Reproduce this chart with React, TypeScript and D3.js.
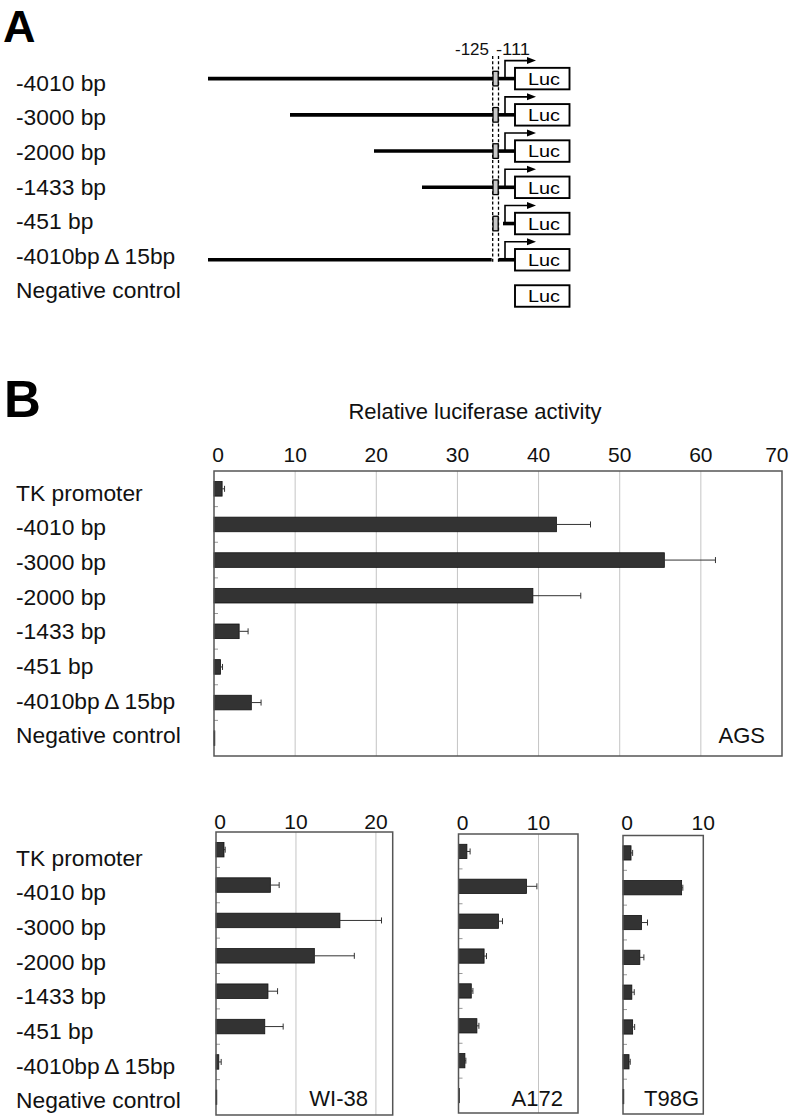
import React from 'react';
import * as d3 from 'd3';

const categories = ['TK promoter', '-4010 bp', '-3000 bp', '-2000 bp', '-1433 bp', '-451 bp', '-4010bp\u2009\u0394 15bp', 'Negative control'];
const constructs = categories.slice(1);
// construct start (bp); null => no upstream segment
const constructStart = [-4010, -3000, -2000, -1433, null, -4010, null];
const hasElement = [true, true, true, true, true, false, false];
const hasPromoter = [true, true, true, true, true, true, false];

const agsValues = [1.0, 42.2, 55.5, 39.3, 3.1, 0.8, 4.6, 0.1];
const agsErrors = [0.3, 4.2, 6.3, 5.9, 1.1, 0.25, 1.2, 0];
const wi38Values = [1.0, 6.8, 15.5, 12.3, 6.5, 6.1, 0.35, 0.0];
const wi38Errors = [0.15, 1.1, 5.2, 5.0, 1.2, 2.3, 0.3, 0];
const a172Values = [1.05, 8.5, 5.0, 3.2, 1.6, 2.3, 0.8, 0.1];
const a172Errors = [0.4, 1.3, 0.5, 0.3, 0.2, 0.25, 0.12, 0];
const t98gValues = [1.0, 7.3, 2.3, 2.1, 1.1, 1.2, 0.75, 0.05];
const t98gErrors = [0.2, 0.15, 0.75, 0.5, 0.3, 0.25, 0.15, 0];

const agsTicks = [0, 10, 20, 30, 40, 50, 60, 70];
const wi38Ticks = [0, 10, 20];
const a172Ticks = [0, 10];
const t98gTicks = [0, 10];

const FONT = '"Liberation Sans", Arial, Helvetica, sans-serif';

type PanelProps = {
  x0: number; x1: number; top: number; bottom: number; max: number;
  values: number[]; errors: number[]; ticks: number[]; name: string;
  tickBaseline: number; nameX: number; nameBaseline: number;
};

function BarPanel(p: PanelProps) {
  const x = d3.scaleLinear().domain([0, p.max]).range([p.x0, p.x1]);
  const y = d3.scaleBand<string>().domain(categories).range([p.top, p.bottom])
    .paddingInner(0.59).paddingOuter(0.295);
  const step = y.step();
  return (
    <g>
      {p.ticks.filter(t => t > 0 && x(t) < p.x1 - 1).map(t => (
        <line key={'g' + t} x1={x(t)} x2={x(t)} y1={p.top} y2={p.bottom} stroke="#c4c4c4" strokeWidth={1} />
      ))}
      {d3.range(1, categories.length).map(i => (
        <line key={'t' + i} x1={p.x0} x2={p.x0 + 4} y1={p.top + i * step} y2={p.top + i * step} stroke="#999" strokeWidth={1} />
      ))}
      {categories.map((c, i) => {
        const yc = (y(c) as number) + y.bandwidth() / 2;
        const v = p.values[i];
        const e = p.errors[i];
        return (
          <g key={c}>
            <rect x={x(0)} y={y(c)} width={Math.max(0.8, x(v) - x(0))} height={y.bandwidth()} fill="#333" stroke="#111" strokeWidth={0.8} />
            {e > 0 && (
              <g stroke="#333" strokeWidth={1}>
                <line x1={x(v)} x2={x(v + e)} y1={yc} y2={yc} />
                <line x1={x(v + e)} x2={x(v + e)} y1={yc - 3} y2={yc + 3} />
              </g>
            )}
          </g>
        );
      })}
      <rect x={p.x0} y={p.top} width={p.x1 - p.x0} height={p.bottom - p.top} fill="none" stroke="#555" strokeWidth={1.5} />
      {p.ticks.map(t => {
        const px = x(t);
        const nearEdge = px + 12 > 789;
        return (
          <text key={'l' + t} x={nearEdge ? 788.5 : px + (t === 0 ? 4 : 0)} y={p.tickBaseline}
            textAnchor={nearEdge ? 'end' : 'middle'} fontSize={21} fontFamily={FONT} fill="#111">{t}</text>
        );
      })}
      <text x={p.nameX} y={p.nameBaseline} textAnchor="end" fontSize={22} fontFamily={FONT} fill="#111">{p.name}</text>
    </g>
  );
}

export default function App() {
  // Panel A
  const labelA = d3.scalePoint<string>().domain(constructs).range([90.7, 298.3]);
  const rowY = d3.scalePoint<string>().domain(constructs).range([78.6, 296]);
  const bpX = d3.scaleLinear().domain([-4010, -3000, -2000, -1433, -125]).range([208, 290, 374, 422, 493]);
  const dashL = 492.7, dashR = 498.5, lucX = 515, lucW = 54.5, lucH = 21.5;

  const labelBTop = d3.scalePoint<string>().domain(categories).range([500.7, 743.3]);
  const labelBBot = d3.scalePoint<string>().domain(categories).range([865.7, 1108.3]);

  return (
    <svg width={791} height={1118} style={{ position: 'absolute', left: 0, top: 0, display: 'block' }} fontFamily={FONT}>
      <rect x={0} y={0} width={791} height={1118} fill="#fff" />
      <text x={3} y={41.5} fontSize={45} fontWeight="bold" fill="#000">A</text>
      <text x={4} y={417} fontSize={51} fontWeight="bold" fill="#000">B</text>

      {constructs.map(c => (
        <text key={'la' + c} x={16} y={labelA(c)} fontSize={22.8} fill="#111">{c}</text>
      ))}

      <text x={455} y={54.5} fontSize={17} textLength={34} lengthAdjust="spacingAndGlyphs" fill="#111">-125</text>
      <text x={496} y={54.5} fontSize={17} textLength={34} lengthAdjust="spacingAndGlyphs" fill="#111">-111</text>
      <line x1={dashL} x2={dashL} y1={56} y2={262} stroke="#000" strokeWidth={1.3} strokeDasharray="3,2.2" />
      <line x1={dashR} x2={dashR} y1={56} y2={262} stroke="#000" strokeWidth={1.3} strokeDasharray="3,2.2" />

      {constructs.map((c, i) => {
        const yy = rowY(c) as number;
        const start = constructStart[i];
        const isDelta = !hasElement[i] && hasPromoter[i];
        const rightStart = isDelta ? dashR : (start === null ? 503 : dashR);
        return (
          <g key={'row' + c}>
            {start !== null && (
              <line x1={bpX(start)} x2={isDelta ? dashL - 1 : dashL} y1={yy} y2={yy} stroke="#000" strokeWidth={3.6} />
            )}
            {hasPromoter[i] && (
              <line x1={rightStart} x2={lucX} y1={yy} y2={yy} stroke="#000" strokeWidth={3.6} />
            )}
            {hasElement[i] && (
              <rect x={dashL + 0.3} y={yy - 7.3} width={dashR - dashL - 0.6} height={14.6} fill="#c8c8c8" stroke="#000" strokeWidth={1.3} />
            )}
            {hasPromoter[i] && (
              <g>
                <path d={`M505,${yy} V${yy - 18} H528`} fill="none" stroke="#000" strokeWidth={1.6} />
                <path d={`M527,${yy - 21.5} L536,${yy - 18} L527,${yy - 14.5} Z`} fill="#000" />
              </g>
            )}
            <rect x={lucX} y={yy - lucH / 2} width={lucW} height={lucH} fill="#fff" stroke="#000" strokeWidth={1.9} />
            <text x={528} y={yy + 6.2} fontSize={16.5} textLength={32} lengthAdjust="spacingAndGlyphs" fill="#000">Luc</text>
          </g>
        );
      })}

      {/* Panel B */}
      <text x={475} y={418.5} textAnchor="middle" fontSize={22} fill="#111">Relative luciferase activity</text>
      {categories.map(c => (
        <text key={'lb' + c} x={16} y={labelBTop(c)} fontSize={22.8} fill="#111">{c}</text>
      ))}
      {categories.map(c => (
        <text key={'lc' + c} x={16} y={labelBBot(c)} fontSize={22.8} fill="#111">{c}</text>
      ))}

      <BarPanel x0={214} x1={782} top={471} bottom={756} max={70} values={agsValues} errors={agsErrors}
        ticks={agsTicks} name="AGS" tickBaseline={461.5} nameX={765} nameBaseline={743} />
      <BarPanel x0={216} x1={392.7} top={832} bottom={1115} max={22.1} values={wi38Values} errors={wi38Errors}
        ticks={wi38Ticks} name="WI-38" tickBaseline={828.5} nameX={368} nameBaseline={1106} />
      <BarPanel x0={458.5} x1={578} top={834} bottom={1113} max={14.94} values={a172Values} errors={a172Errors}
        ticks={a172Ticks} name="A172" tickBaseline={830} nameX={563} nameBaseline={1106} />
      <BarPanel x0={623} x1={703.3} top={835.5} bottom={1114} max={10} values={t98gValues} errors={t98gErrors}
        ticks={t98gTicks} name="T98G" tickBaseline={830} nameX={699} nameBaseline={1106} />
    </svg>
  );
}
